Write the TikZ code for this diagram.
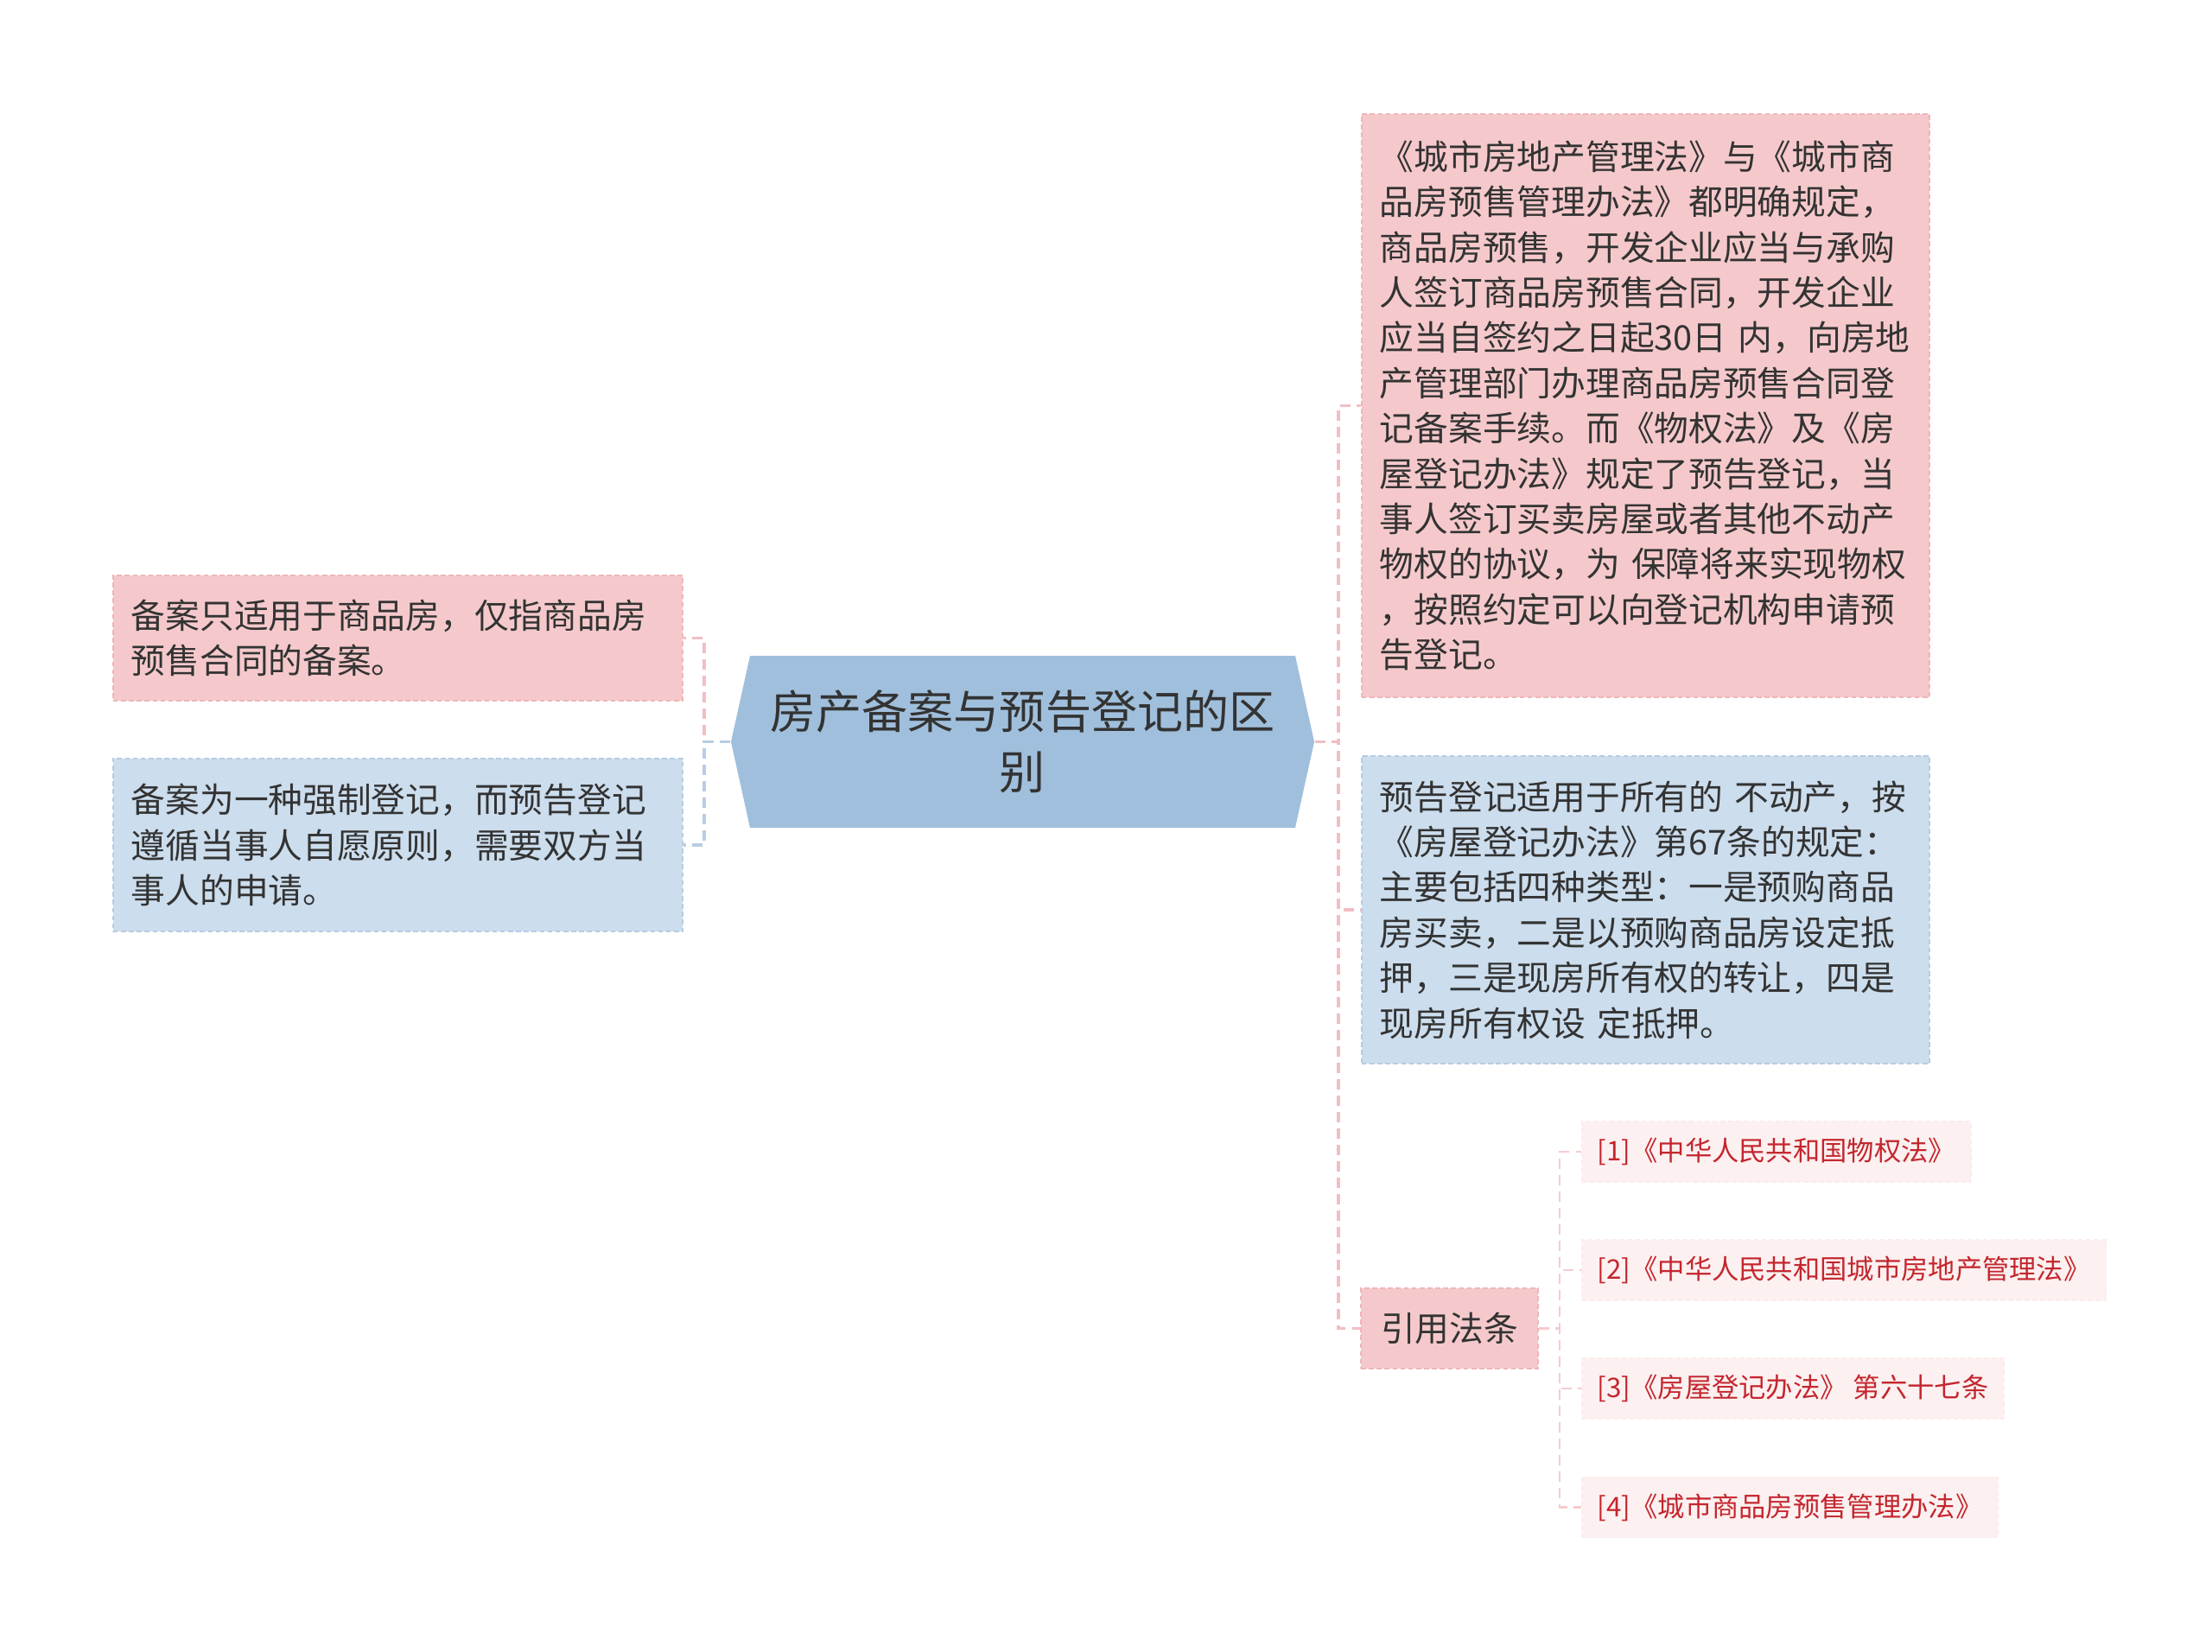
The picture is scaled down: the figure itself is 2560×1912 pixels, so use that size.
\documentclass[tikz,border=0pt]{standalone}
\usepackage{fontspec}
\setmainfont{Noto Sans CJK SC}
\definecolor{pinkfill}{HTML}{F5C9CB}
\definecolor{pinkedge}{HTML}{EEB6B9}
\definecolor{bluefill}{HTML}{CCDDED}
\definecolor{blueedge}{HTML}{B7CCE2}
\definecolor{rootfill}{HTML}{A0BFDC}
\definecolor{citefill}{HTML}{FCF0F0}
\definecolor{citetext}{HTML}{C4262E}
\definecolor{textdark}{HTML}{333333}
\definecolor{pinkline}{HTML}{F2BEC2}
\definecolor{blueline}{HTML}{B8CDE3}

\tikzset{
  leaf/.style={inner xsep=0.21cm, inner ysep=0pt, align=left, text=textdark,
    line width=0.6pt, dash pattern=on 1.6pt off 1pt,
    font=\fontsize{11.3pt}{14.9pt}\selectfont},
  pinkbox/.style={leaf, fill=pinkfill, draw=pinkedge},
  bluebox/.style={leaf, fill=bluefill, draw=blueedge},
  citebox/.style={anchor=west, fill=citefill, draw=citefill!90!pinkfill,
    line width=0.5pt, dash pattern=on 1.6pt off 1pt, text=citetext,
    inner xsep=0.18cm, inner ysep=0pt, minimum height=0.7cm,
    font=\fontsize{8.9pt}{11pt}\selectfont},
  pinkconn/.style={draw=pinkline, line width=1pt, dash pattern=on 3.4pt off 2pt},
  blueconn/.style={draw=blueline, line width=1pt, dash pattern=on 3.4pt off 2pt},
  citeconn/.style={draw=pinkline!80!white, line width=0.6pt, dash pattern=on 3.4pt off 2pt}
}

\begin{document}
\begin{tikzpicture}[x=0.01cm, y=-0.01cm]
  \fill[white] (0,0) rectangle (2560,1912);
  \useasboundingbox (0,0) rectangle (2560,1912);
  % main topic
  \fill[rootfill] (846,858.5) -- (868,759) -- (1499,759) -- (1521,858.5)
     -- (1499,958) -- (868,958) -- cycle;
  \node[minimum width=6.75cm, minimum height=1.99cm, align=center, text=textdark,
     font=\fontsize{15.1pt}{20pt}\selectfont] (root) at (1183.5,858.5)
     {房产备案与预告登记的区\\别};
  % left side
  \node[pinkbox, text width=6.17cm, minimum height=1.45cm] (lA) at (460.5,738.5)
     {备案只适用于商品房，仅指商品房\\预售合同的备案。};
  \node[bluebox, text width=6.17cm, minimum height=2cm] (lB) at (460.5,978)
     {备案为一种强制登记，而预告登记\\遵循当事人自愿原则，需要双方当\\事人的申请。};
  % right side
  \node[pinkbox, text width=6.15cm, minimum height=6.75cm] (rA) at (1904.5,469.5)
     {《城市房地产管理法》与《城市商\\品房预售管理办法》都明确规定，\\商品房预售，开发企业应当与承购\\人签订商品房预售合同，开发企业\\应当自签约之日起30日~内，向房地\\产管理部门办理商品房预售合同登\\记备案手续。而《物权法》及《房\\屋登记办法》规定了预告登记，当\\事人签订买卖房屋或者其他不动产\\物权的协议，为~保障将来实现物权\\，按照约定可以向登记机构申请预\\告登记。};
  \node[bluebox, text width=6.15cm, minimum height=3.56cm] (rB) at (1904.5,1053)
     {预告登记适用于所有的~不动产，按\\《房屋登记办法》第67条的规定：\\主要包括四种类型：一是预购商品\\房买卖，二是以预购商品房设定抵\\押，三是现房所有权的转让，四是\\现房所有权设~定抵押。};
  \node[pinkbox, minimum width=2.05cm, minimum height=0.93cm] (rC) at (1677.5,1537.5)
     {引用法条};
  % citations
  \node[citebox] (c1) at (1830,1333) {[1]《中华人民共和国物权法》};
  \node[citebox] (c2) at (1830,1470) {[2]《中华人民共和国城市房地产管理法》};
  \node[citebox] (c3) at (1830,1607) {[3]《房屋登记办法》 第六十七条};
  \node[citebox] (c4) at (1830,1744.5) {[4]《城市商品房预售管理办法》};
  % connectors
  \draw[pinkconn] (root.west) -- ++(-30,0) |- (lA.east);
  \draw[blueconn] (root.west) -- ++(-30,0) |- (lB.east);
  \foreach \n in {rA,rB,rC}
    \draw[pinkconn] (root.east) -- ++(27,0) |- (\n.west);
  \foreach \n in {c1,c2,c3,c4}
    \draw[citeconn] (rC.east) -- ++(24,0) |- (\n.west);
\end{tikzpicture}
\end{document}
